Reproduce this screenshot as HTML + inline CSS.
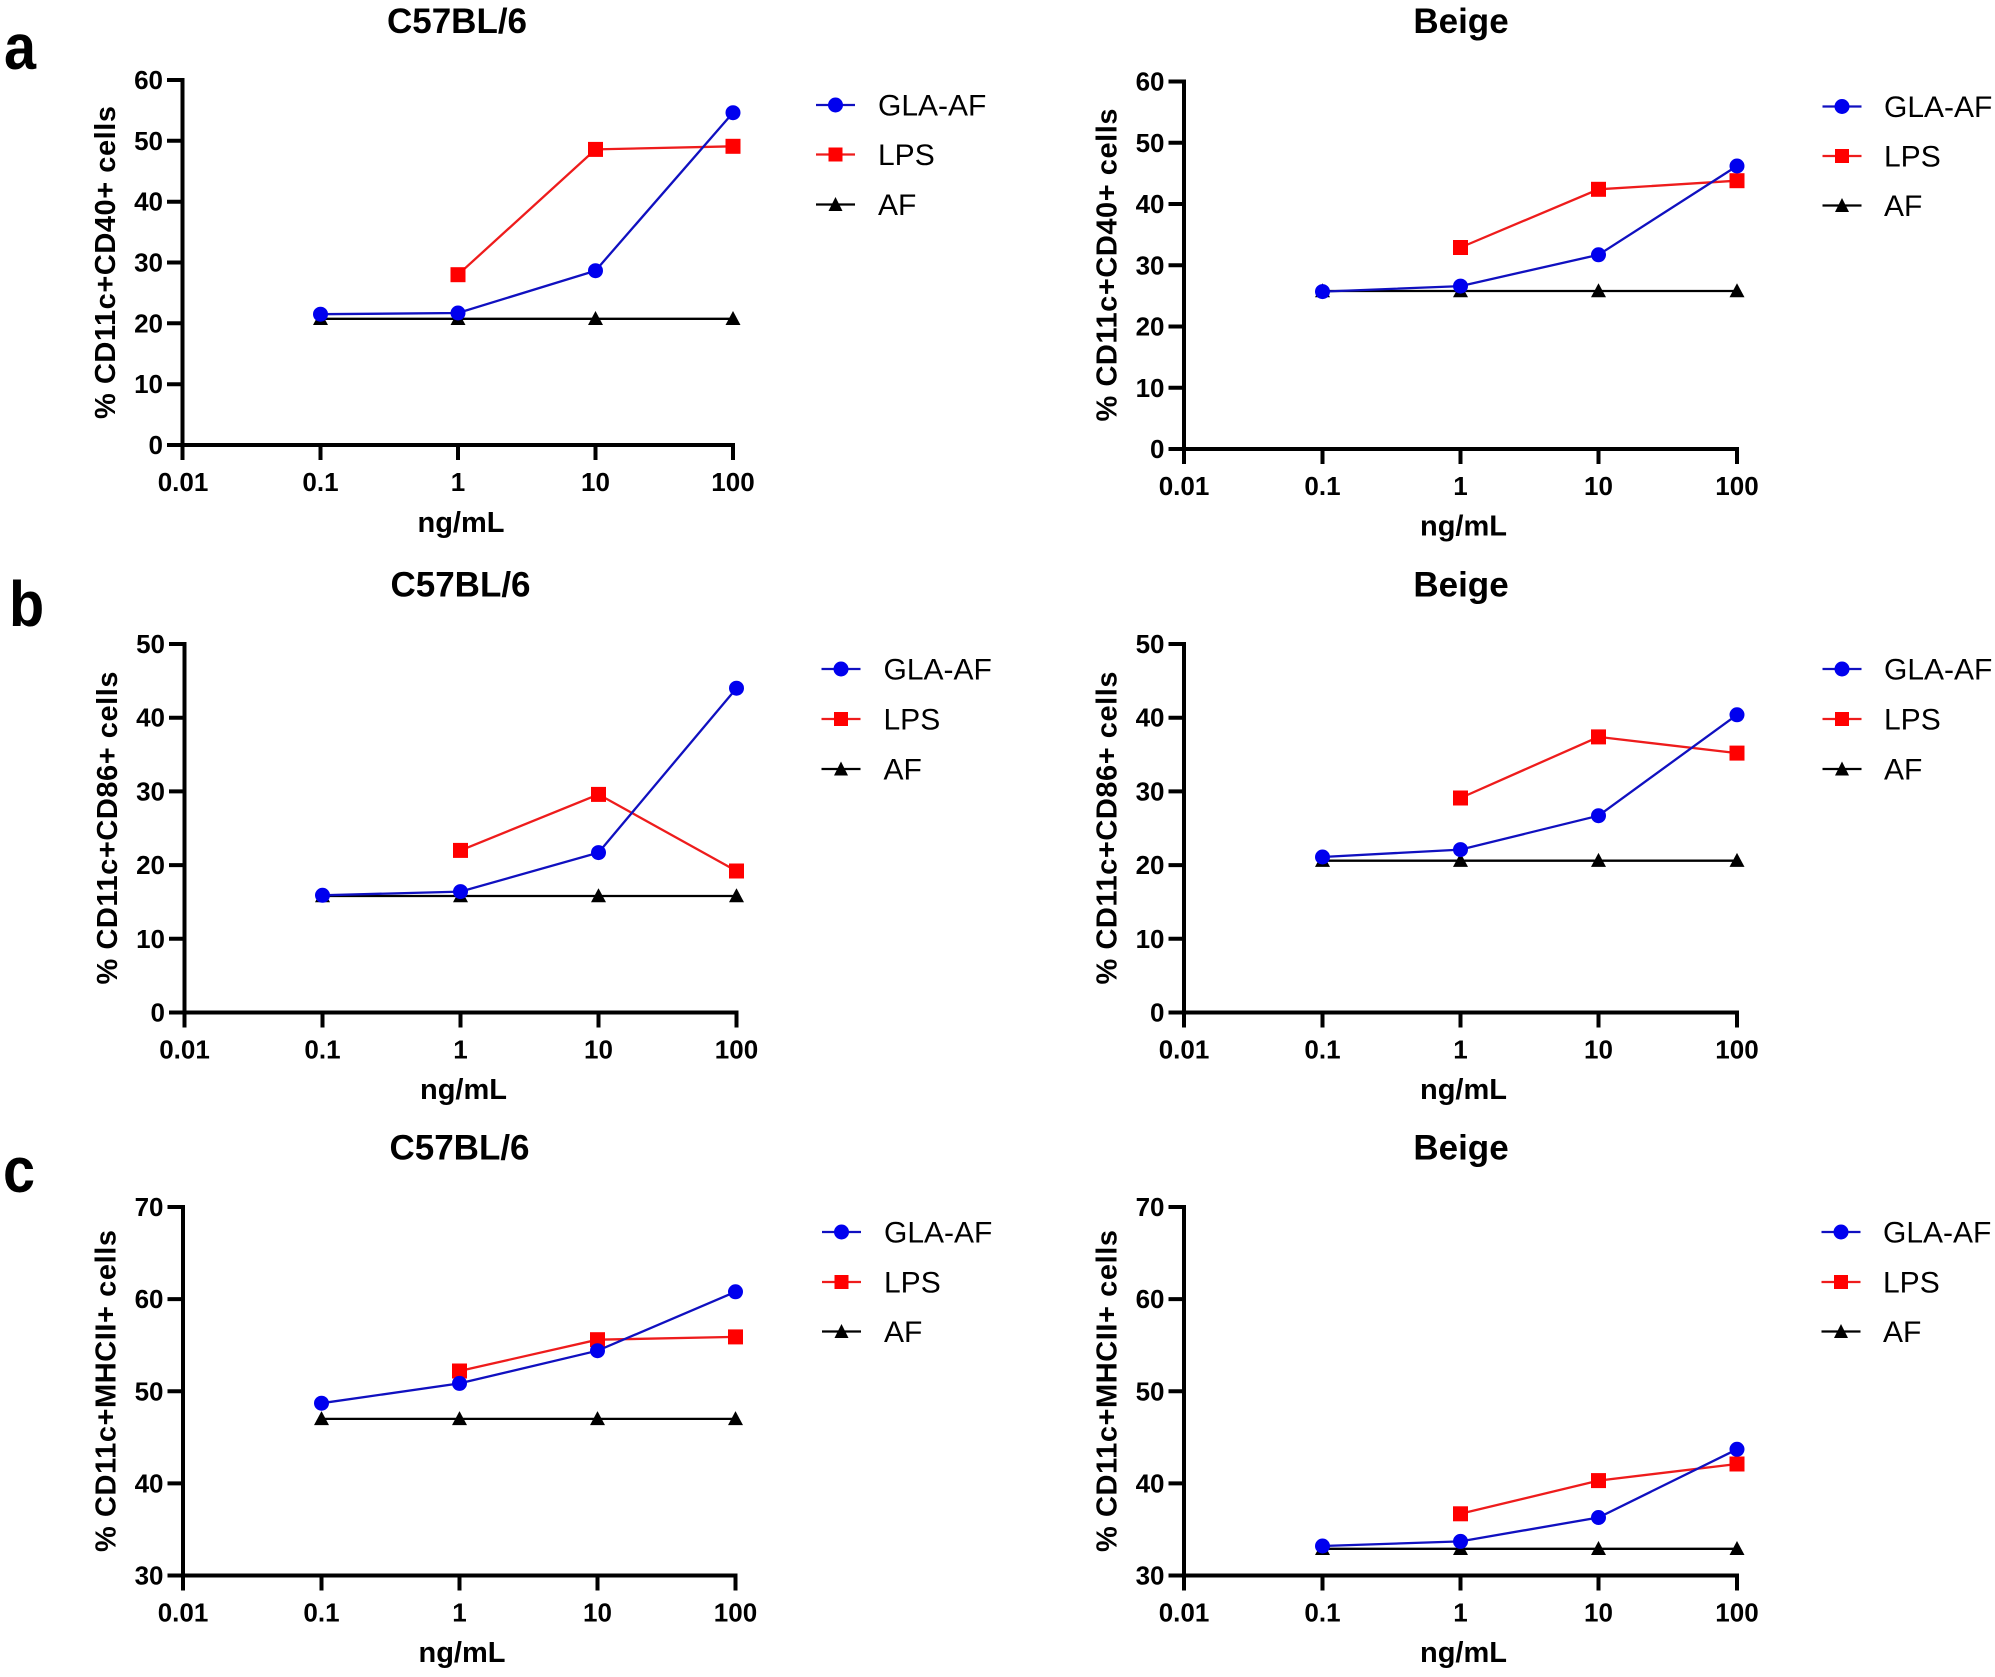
<!DOCTYPE html>
<html>
<head>
<meta charset="utf-8">
<style>
html,body{margin:0;padding:0;background:#fff;}
svg{display:block;}
text{font-family:"Liberation Sans",Arial,sans-serif;fill:#000;}
.tk{font-size:26px;font-weight:bold;}
.xl{font-size:29px;font-weight:bold;}
.yl{font-size:29px;font-weight:bold;}
.ti{font-size:35px;font-weight:bold;}
.lg{font-size:30px;}
.pl{font-size:64px;font-weight:bold;}
.ax{stroke:#000;stroke-width:4;fill:none;}
.bl{stroke:#1010c0;stroke-width:2.3;fill:none;}
.rl{stroke:#ee1c1c;stroke-width:2.3;fill:none;}
.kl{stroke:#000;stroke-width:2.3;fill:none;}
.bm{fill:#0000ee;}
.rm{fill:#ff0000;}
.km{fill:#000;}
</style>
</head>
<body>
<svg width="1995" height="1677" viewBox="0 0 1995 1677" xmlns="http://www.w3.org/2000/svg">
<rect width="1995" height="1677" fill="#fff"/>

<!-- panel labels -->
<text class="pl" x="4" y="69" transform="translate(4,0) scale(0.9,1) translate(-4,0)">a</text>
<text class="pl" x="9" y="626" transform="translate(9,0) scale(0.9,1) translate(-9,0)">b</text>
<text class="pl" x="3" y="1192" transform="translate(3,0) scale(0.9,1) translate(-3,0)">c</text>

<!-- ================= PANEL A LEFT ================= -->
<text class="ti" x="457" y="33" text-anchor="middle">C57BL/6</text>
<path class="ax" d="M182.5 78V460 M167 445H735 M167 384.2H183 M167 323.3H183 M167 262.5H183 M167 201.7H183 M167 140.8H183 M167 80H183 M320.5 445V460 M458 445V460 M595.5 445V460 M733 445V460"/>
<g class="tk" text-anchor="end">
<text x="163" y="454">0</text><text x="163" y="393.2">10</text><text x="163" y="332.3">20</text><text x="163" y="271.5">30</text><text x="163" y="210.7">40</text><text x="163" y="149.8">50</text><text x="163" y="89">60</text>
</g>
<g class="tk" text-anchor="middle">
<text x="183" y="491">0.01</text><text x="320.5" y="491">0.1</text><text x="458" y="491">1</text><text x="595.5" y="491">10</text><text x="733" y="491">100</text>
</g>
<text class="xl" x="461" y="532" text-anchor="middle">ng/mL</text>
<text class="yl" transform="translate(115,262.5) rotate(-90)" text-anchor="middle" textLength="313" lengthAdjust="spacing">% CD11c+CD40+ cells</text>
<polyline class="kl" points="320.5,318.8 458,318.8 595.5,318.8 733,318.8"/>
<g class="km">
<polygon points="320.5,311 313,325 328,325"/><polygon points="458,311 450.5,325 465.5,325"/><polygon points="595.5,311 588,325 603,325"/><polygon points="733,311 725.5,325 740.5,325"/>
</g>
<polyline class="rl" points="458,274.7 595.5,149.4 733,146.3"/>
<g class="rm">
<rect x="450.5" y="267.2" width="15" height="15"/><rect x="588" y="141.9" width="15" height="15"/><rect x="725.5" y="138.8" width="15" height="15"/>
</g>
<polyline class="bl" points="320.5,314.2 458,313 595.5,270.7 733,112.7"/>
<g class="bm">
<circle cx="320.5" cy="314.2" r="7.5"/><circle cx="458" cy="313" r="7.5"/><circle cx="595.5" cy="270.7" r="7.5"/><circle cx="733" cy="112.7" r="7.5"/>
</g>
<!-- legend -->
<line class="bl" x1="816" y1="105" x2="855" y2="105"/><circle class="bm" cx="835.5" cy="105" r="7.5"/>
<text class="lg" x="878" y="115.5">GLA-AF</text>
<line class="rl" x1="816" y1="154.5" x2="855" y2="154.5"/><rect class="rm" x="828.5" y="147.5" width="14" height="14"/>
<text class="lg" x="878" y="165">LPS</text>
<line class="kl" x1="816" y1="204.5" x2="855" y2="204.5"/><polygon class="km" points="835.5,197 828.5,211 842.5,211"/>
<text class="lg" x="878" y="215">AF</text>

<!-- ================= PANEL A RIGHT ================= -->
<text class="ti" x="1461" y="33" text-anchor="middle">Beige</text>
<path class="ax" d="M1184 79.5V464 M1168.5 449H1739 M1168.5 387.75H1185 M1168.5 326.5H1185 M1168.5 265.25H1185 M1168.5 204H1185 M1168.5 142.75H1185 M1168.5 81.5H1185 M1322.5 449V464 M1460.5 449V464 M1598.5 449V464 M1737 449V464"/>
<g class="tk" text-anchor="end">
<text x="1164.5" y="458">0</text><text x="1164.5" y="396.75">10</text><text x="1164.5" y="335.5">20</text><text x="1164.5" y="274.25">30</text><text x="1164.5" y="213">40</text><text x="1164.5" y="151.75">50</text><text x="1164.5" y="90.5">60</text>
</g>
<g class="tk" text-anchor="middle">
<text x="1184" y="495">0.01</text><text x="1322.5" y="495">0.1</text><text x="1460.5" y="495">1</text><text x="1598.5" y="495">10</text><text x="1737" y="495">100</text>
</g>
<text class="xl" x="1463.5" y="535.5" text-anchor="middle">ng/mL</text>
<text class="yl" transform="translate(1116.5,265) rotate(-90)" text-anchor="middle" textLength="313" lengthAdjust="spacing">% CD11c+CD40+ cells</text>
<polyline class="kl" points="1322.5,291 1460.5,291 1598.5,291 1737,291"/>
<g class="km">
<polygon points="1322.5,283.2 1315,297.2 1330,297.2"/><polygon points="1460.5,283.2 1453,297.2 1468,297.2"/><polygon points="1598.5,283.2 1591,297.2 1606,297.2"/><polygon points="1737,283.2 1729.5,297.2 1744.5,297.2"/>
</g>
<polyline class="rl" points="1460.5,247.5 1598.5,189.3 1737,180.7"/>
<g class="rm">
<rect x="1453" y="240" width="15" height="15"/><rect x="1591" y="181.8" width="15" height="15"/><rect x="1729.5" y="173.2" width="15" height="15"/>
</g>
<polyline class="bl" points="1322.5,291.6 1460.5,286.1 1598.5,254.8 1737,166"/>
<g class="bm">
<circle cx="1322.5" cy="291.6" r="7.5"/><circle cx="1460.5" cy="286.1" r="7.5"/><circle cx="1598.5" cy="254.8" r="7.5"/><circle cx="1737" cy="166" r="7.5"/>
</g>
<line class="bl" x1="1822.5" y1="106.5" x2="1861.5" y2="106.5"/><circle class="bm" cx="1842" cy="106.5" r="7.5"/>
<text class="lg" x="1884" y="117">GLA-AF</text>
<line class="rl" x1="1822.5" y1="156" x2="1861.5" y2="156"/><rect class="rm" x="1835" y="149" width="14" height="14"/>
<text class="lg" x="1884" y="166.5">LPS</text>
<line class="kl" x1="1822.5" y1="205.5" x2="1861.5" y2="205.5"/><polygon class="km" points="1842,198 1835,212 1849,212"/>
<text class="lg" x="1884" y="216">AF</text>

<!-- ================= PANEL B LEFT ================= -->
<text class="ti" x="460.5" y="596.5" text-anchor="middle">C57BL/6</text>
<path class="ax" d="M184.5 642V1027.5 M169 1012.5H738.5 M169 938.8H185 M169 865.1H185 M169 791.4H185 M169 717.7H185 M169 644H185 M322.5 1012.5V1027.5 M460.5 1012.5V1027.5 M598.5 1012.5V1027.5 M736.5 1012.5V1027.5"/>
<g class="tk" text-anchor="end">
<text x="165" y="1021.5">0</text><text x="165" y="947.8">10</text><text x="165" y="874.1">20</text><text x="165" y="800.4">30</text><text x="165" y="726.7">40</text><text x="165" y="653">50</text>
</g>
<g class="tk" text-anchor="middle">
<text x="184.5" y="1058.5">0.01</text><text x="322.5" y="1058.5">0.1</text><text x="460.5" y="1058.5">1</text><text x="598.5" y="1058.5">10</text><text x="736.5" y="1058.5">100</text>
</g>
<text class="xl" x="463.5" y="1099" text-anchor="middle">ng/mL</text>
<text class="yl" transform="translate(117,828) rotate(-90)" text-anchor="middle" textLength="313" lengthAdjust="spacing">% CD11c+CD86+ cells</text>
<polyline class="kl" points="322.5,896 460.5,896 598.5,896 736.5,896"/>
<g class="km">
<polygon points="322.5,888.2 315,902.2 330,902.2"/><polygon points="460.5,888.2 453,902.2 468,902.2"/><polygon points="598.5,888.2 591,902.2 606,902.2"/><polygon points="736.5,888.2 729,902.2 744,902.2"/>
</g>
<polyline class="rl" points="460.5,850.4 598.5,794.4 736.5,871"/>
<g class="rm">
<rect x="453" y="842.9" width="15" height="15"/><rect x="591" y="786.9" width="15" height="15"/><rect x="729" y="863.5" width="15" height="15"/>
</g>
<polyline class="bl" points="322.5,895.3 460.5,891.6 598.5,852.6 736.5,688.2"/>
<g class="bm">
<circle cx="322.5" cy="895.3" r="7.5"/><circle cx="460.5" cy="891.6" r="7.5"/><circle cx="598.5" cy="852.6" r="7.5"/><circle cx="736.5" cy="688.2" r="7.5"/>
</g>
<line class="bl" x1="821.5" y1="669" x2="860.5" y2="669"/><circle class="bm" cx="841" cy="669" r="7.5"/>
<text class="lg" x="883.5" y="679.5">GLA-AF</text>
<line class="rl" x1="821.5" y1="719" x2="860.5" y2="719"/><rect class="rm" x="834" y="712" width="14" height="14"/>
<text class="lg" x="883.5" y="729.5">LPS</text>
<line class="kl" x1="821.5" y1="769" x2="860.5" y2="769"/><polygon class="km" points="841,761.5 834,775.5 848,775.5"/>
<text class="lg" x="883.5" y="779.5">AF</text>

<!-- ================= PANEL B RIGHT ================= -->
<text class="ti" x="1461" y="596.5" text-anchor="middle">Beige</text>
<path class="ax" d="M1184 642V1027.5 M1168.5 1012.5H1739 M1168.5 938.8H1185 M1168.5 865.1H1185 M1168.5 791.4H1185 M1168.5 717.7H1185 M1168.5 644H1185 M1322.5 1012.5V1027.5 M1460.5 1012.5V1027.5 M1598.5 1012.5V1027.5 M1737 1012.5V1027.5"/>
<g class="tk" text-anchor="end">
<text x="1164.5" y="1021.5">0</text><text x="1164.5" y="947.8">10</text><text x="1164.5" y="874.1">20</text><text x="1164.5" y="800.4">30</text><text x="1164.5" y="726.7">40</text><text x="1164.5" y="653">50</text>
</g>
<g class="tk" text-anchor="middle">
<text x="1184" y="1058.5">0.01</text><text x="1322.5" y="1058.5">0.1</text><text x="1460.5" y="1058.5">1</text><text x="1598.5" y="1058.5">10</text><text x="1737" y="1058.5">100</text>
</g>
<text class="xl" x="1463.5" y="1099" text-anchor="middle">ng/mL</text>
<text class="yl" transform="translate(1116.5,828) rotate(-90)" text-anchor="middle" textLength="313" lengthAdjust="spacing">% CD11c+CD86+ cells</text>
<polyline class="kl" points="1322.5,860.7 1460.5,860.7 1598.5,860.7 1737,860.7"/>
<g class="km">
<polygon points="1322.5,852.9 1315,866.9 1330,866.9"/><polygon points="1460.5,852.9 1453,866.9 1468,866.9"/><polygon points="1598.5,852.9 1591,866.9 1606,866.9"/><polygon points="1737,852.9 1729.5,866.9 1744.5,866.9"/>
</g>
<polyline class="rl" points="1460.5,798 1598.5,736.9 1737,753.1"/>
<g class="rm">
<rect x="1453" y="790.5" width="15" height="15"/><rect x="1591" y="729.4" width="15" height="15"/><rect x="1729.5" y="745.6" width="15" height="15"/>
</g>
<polyline class="bl" points="1322.5,857 1460.5,849.6 1598.5,815.7 1737,714.8"/>
<g class="bm">
<circle cx="1322.5" cy="857" r="7.5"/><circle cx="1460.5" cy="849.6" r="7.5"/><circle cx="1598.5" cy="815.7" r="7.5"/><circle cx="1737" cy="714.8" r="7.5"/>
</g>
<line class="bl" x1="1822.5" y1="669" x2="1861.5" y2="669"/><circle class="bm" cx="1842" cy="669" r="7.5"/>
<text class="lg" x="1884" y="679.5">GLA-AF</text>
<line class="rl" x1="1822.5" y1="719" x2="1861.5" y2="719"/><rect class="rm" x="1835" y="712" width="14" height="14"/>
<text class="lg" x="1884" y="729.5">LPS</text>
<line class="kl" x1="1822.5" y1="769" x2="1861.5" y2="769"/><polygon class="km" points="1842,761.5 1835,775.5 1849,775.5"/>
<text class="lg" x="1884" y="779.5">AF</text>

<!-- ================= PANEL C LEFT ================= -->
<text class="ti" x="459.5" y="1159.5" text-anchor="middle">C57BL/6</text>
<path class="ax" d="M183 1205V1590.5 M167.5 1575.5H737.5 M167.5 1483.4H184 M167.5 1391.3H184 M167.5 1299.1H184 M167.5 1207H184 M321.5 1575.5V1590.5 M459.5 1575.5V1590.5 M597.5 1575.5V1590.5 M735.5 1575.5V1590.5"/>
<g class="tk" text-anchor="end">
<text x="163.5" y="1584.5">30</text><text x="163.5" y="1492.4">40</text><text x="163.5" y="1400.3">50</text><text x="163.5" y="1308.1">60</text><text x="163.5" y="1216">70</text>
</g>
<g class="tk" text-anchor="middle">
<text x="183" y="1621.5">0.01</text><text x="321.5" y="1621.5">0.1</text><text x="459.5" y="1621.5">1</text><text x="597.5" y="1621.5">10</text><text x="735.5" y="1621.5">100</text>
</g>
<text class="xl" x="462" y="1662" text-anchor="middle">ng/mL</text>
<text class="yl" transform="translate(115.5,1391) rotate(-90)" text-anchor="middle" textLength="322" lengthAdjust="spacing">% CD11c+MHCII+ cells</text>
<polyline class="kl" points="321.5,1418.9 459.5,1418.9 597.5,1418.9 735.5,1418.9"/>
<g class="km">
<polygon points="321.5,1411.1 314,1425.1 329,1425.1"/><polygon points="459.5,1411.1 452,1425.1 467,1425.1"/><polygon points="597.5,1411.1 590,1425.1 605,1425.1"/><polygon points="735.5,1411.1 728,1425.1 743,1425.1"/>
</g>
<polyline class="rl" points="459.5,1371 597.5,1339.7 735.5,1336.9"/>
<g class="rm">
<rect x="452" y="1363.5" width="15" height="15"/><rect x="590" y="1332.2" width="15" height="15"/><rect x="728" y="1329.4" width="15" height="15"/>
</g>
<polyline class="bl" points="321.5,1403.2 459.5,1383.4 597.5,1350.7 735.5,1291.8"/>
<g class="bm">
<circle cx="321.5" cy="1403.2" r="7.5"/><circle cx="459.5" cy="1383.4" r="7.5"/><circle cx="597.5" cy="1350.7" r="7.5"/><circle cx="735.5" cy="1291.8" r="7.5"/>
</g>
<line class="bl" x1="822" y1="1232" x2="861" y2="1232"/><circle class="bm" cx="841.5" cy="1232" r="7.5"/>
<text class="lg" x="884" y="1242.5">GLA-AF</text>
<line class="rl" x1="822" y1="1282" x2="861" y2="1282"/><rect class="rm" x="834.5" y="1275" width="14" height="14"/>
<text class="lg" x="884" y="1292.5">LPS</text>
<line class="kl" x1="822" y1="1331.5" x2="861" y2="1331.5"/><polygon class="km" points="841.5,1324 834.5,1338 848.5,1338"/>
<text class="lg" x="884" y="1342">AF</text>

<!-- ================= PANEL C RIGHT ================= -->
<text class="ti" x="1461" y="1159.5" text-anchor="middle">Beige</text>
<path class="ax" d="M1184 1205V1590.5 M1168.5 1575.5H1739 M1168.5 1483.4H1185 M1168.5 1391.3H1185 M1168.5 1299.1H1185 M1168.5 1207H1185 M1322.5 1575.5V1590.5 M1460.5 1575.5V1590.5 M1598.5 1575.5V1590.5 M1737 1575.5V1590.5"/>
<g class="tk" text-anchor="end">
<text x="1164.5" y="1584.5">30</text><text x="1164.5" y="1492.4">40</text><text x="1164.5" y="1400.3">50</text><text x="1164.5" y="1308.1">60</text><text x="1164.5" y="1216">70</text>
</g>
<g class="tk" text-anchor="middle">
<text x="1184" y="1621.5">0.01</text><text x="1322.5" y="1621.5">0.1</text><text x="1460.5" y="1621.5">1</text><text x="1598.5" y="1621.5">10</text><text x="1737" y="1621.5">100</text>
</g>
<text class="xl" x="1463.5" y="1662" text-anchor="middle">ng/mL</text>
<text class="yl" transform="translate(1116.5,1391) rotate(-90)" text-anchor="middle" textLength="322" lengthAdjust="spacing">% CD11c+MHCII+ cells</text>
<polyline class="kl" points="1322.5,1548.8 1460.5,1548.8 1598.5,1548.8 1737,1548.8"/>
<g class="km">
<polygon points="1322.5,1541 1315,1555 1330,1555"/><polygon points="1460.5,1541 1453,1555 1468,1555"/><polygon points="1598.5,1541 1591,1555 1606,1555"/><polygon points="1737,1541 1729.5,1555 1744.5,1555"/>
</g>
<polyline class="rl" points="1460.5,1513.8 1598.5,1480.6 1737,1464"/>
<g class="rm">
<rect x="1453" y="1506.3" width="15" height="15"/><rect x="1591" y="1473.1" width="15" height="15"/><rect x="1729.5" y="1456.5" width="15" height="15"/>
</g>
<polyline class="bl" points="1322.5,1546 1460.5,1541.4 1598.5,1517.5 1737,1449.3"/>
<g class="bm">
<circle cx="1322.5" cy="1546" r="7.5"/><circle cx="1460.5" cy="1541.4" r="7.5"/><circle cx="1598.5" cy="1517.5" r="7.5"/><circle cx="1737" cy="1449.3" r="7.5"/>
</g>
<line class="bl" x1="1821.5" y1="1232" x2="1860.5" y2="1232"/><circle class="bm" cx="1841" cy="1232" r="7.5"/>
<text class="lg" x="1883" y="1242.5">GLA-AF</text>
<line class="rl" x1="1821.5" y1="1282" x2="1860.5" y2="1282"/><rect class="rm" x="1834" y="1275" width="14" height="14"/>
<text class="lg" x="1883" y="1292.5">LPS</text>
<line class="kl" x1="1821.5" y1="1331.5" x2="1860.5" y2="1331.5"/><polygon class="km" points="1841,1324 1834,1338 1848,1338"/>
<text class="lg" x="1883" y="1342">AF</text>
</svg>
</body>
</html>
